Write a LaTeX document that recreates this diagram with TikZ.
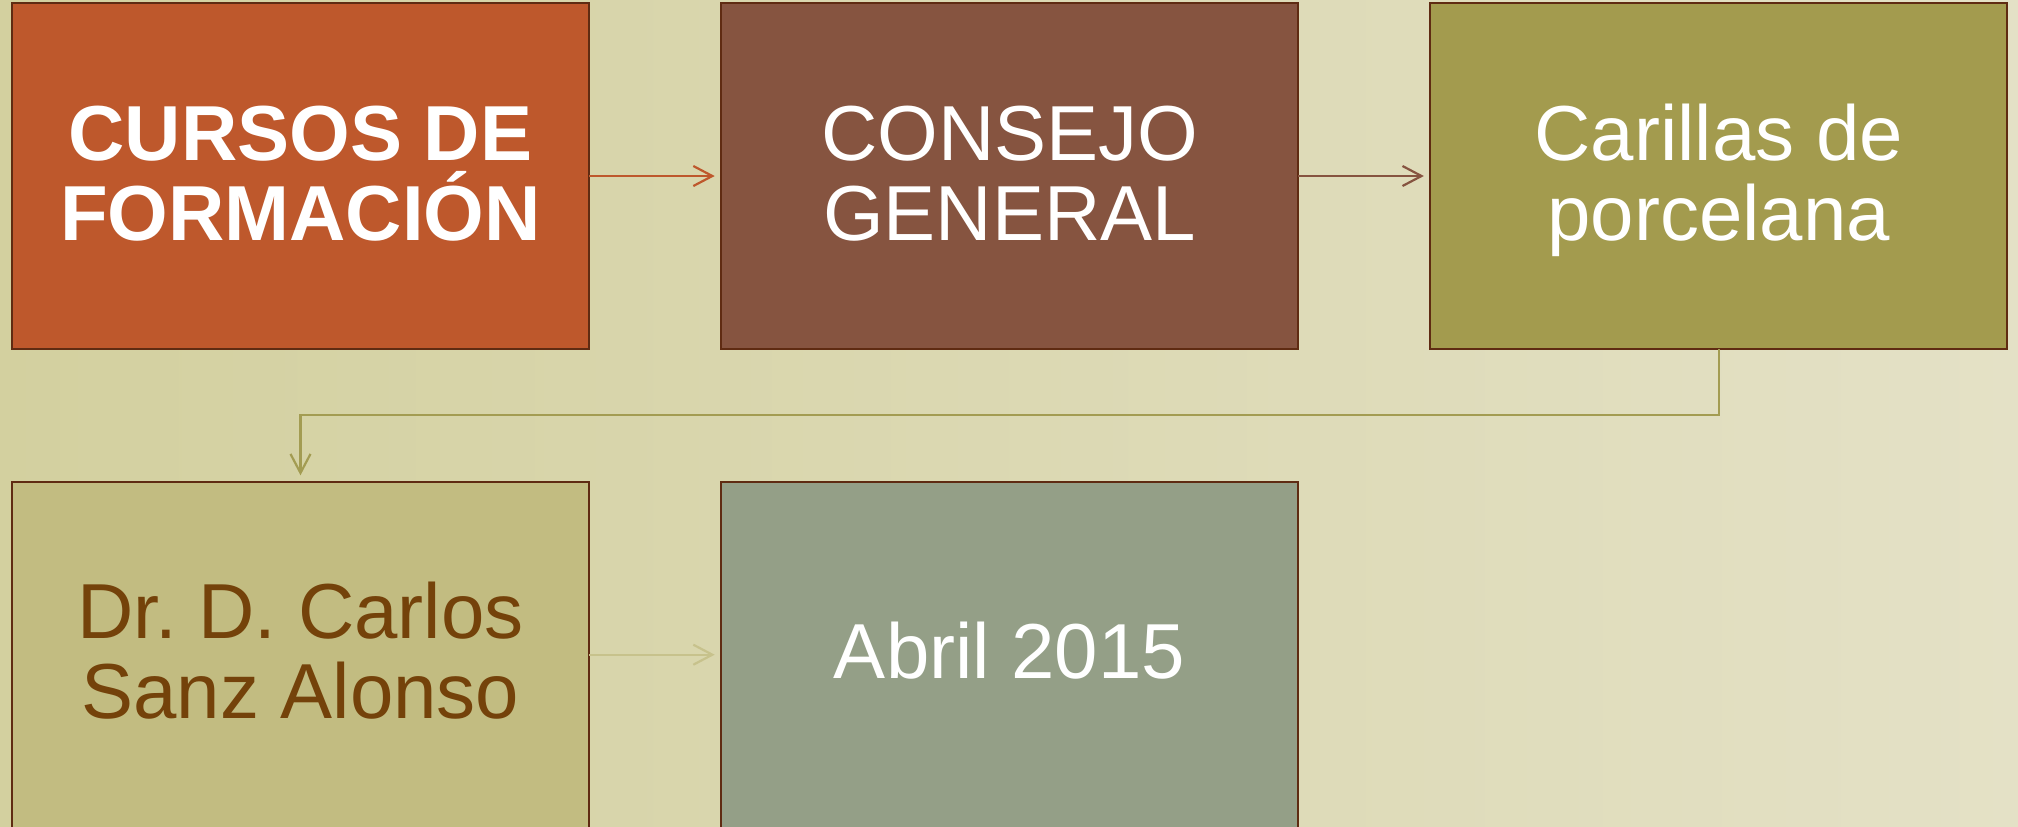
\documentclass[tikz,border=0pt]{standalone}
\usepackage{fontspec}
\setmainfont{Liberation Sans}
\usetikzlibrary{arrows.meta}
\frenchspacing
\definecolor{bgL}{RGB}{211,208,159}
\definecolor{bgR}{RGB}{228,225,198}
\definecolor{cA}{RGB}{190,88,44}
\definecolor{cB}{RGB}{134,84,64}
\definecolor{cC}{RGB}{163,155,78}
\definecolor{cD}{RGB}{194,188,129}
\definecolor{cE}{RGB}{148,159,135}
\definecolor{brd}{RGB}{95,43,18}
\definecolor{arC}{RGB}{163,156,82}
\definecolor{arD}{RGB}{199,194,140}
\definecolor{txD}{RGB}{116,66,10}
\newcommand\lnst{\rule[-10pt]{0pt}{44pt}}
\newcommand\tightlines{\setlength{\lineskiplimit}{-100pt}}
\newcommand\boxfont{\fontsize{39}{40}\selectfont\tightlines}
\tikzset{
  box/.style={draw=brd, line width=1pt, minimum width=288.5pt, minimum height=173pt,
    inner sep=0pt, outer sep=0pt, align=center, text=white, font=\boxfont},
  conn/.style={line width=1.1pt, -{Straight Barb[length=9.5pt,width=10pt,line width=1.1pt]}, shorten >=3.2pt}
}
\begin{document}
\begin{tikzpicture}[x=0.5pt,y=-0.5pt]
\shade[left color=bgL, right color=bgR] (0,0) rectangle (2018,826);
\useasboundingbox (0,0) rectangle (2018,826);
\node[box, fill=cA, font=\boxfont\bfseries] (b1) at (300.5,176) {\lnst CURSOS DE\\\lnst FORMACIÓN};
\node[box, fill=cB] (b2) at (1009.6,176) {\lnst CONSEJO\\\lnst GENERAL};
\node[box, fill=cC] (b3) at (1718.75,176) {\lnst Carillas de\\\lnst porcelana};
\node[box, fill=cD, text=txD] (b4) at (300.5,654.7) {\lnst Dr. D. Carlos\\\lnst Sanz Alonso};
\node[box, fill=cE] (b5) at (1009.6,654.7) {\lnst Abril 2015};
\coordinate (k1) at (1718.75,415);
\coordinate (k2) at (300.5,415);
\draw[conn, draw=cA] (b1.east) -- (b2.west);
\draw[conn, draw=cB] (b2.east) -- (b3.west);
\draw[conn, draw=arC] (b3.south) -- (k1) -- (k2) -- (b4.north);
\draw[conn, draw=arD] (b4.east) -- (b5.west);
\end{tikzpicture}
\end{document}
